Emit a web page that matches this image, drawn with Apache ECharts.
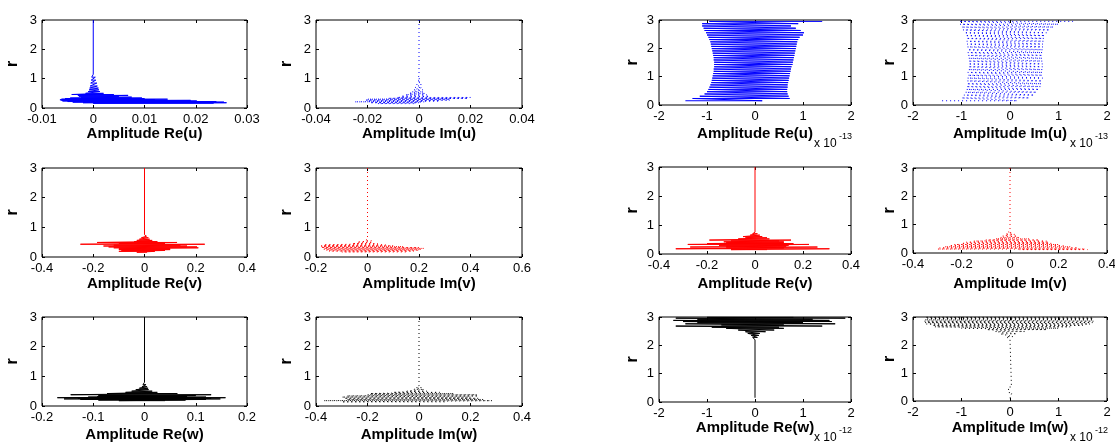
<!DOCTYPE html>
<html>
<head>
<meta charset="utf-8">
<script src="https://cdn.jsdelivr.net/npm/echarts@6/dist/echarts.min.js"></script>
<style>
html, body { margin: 0; padding: 0; background: #fff; }
#main { width: 1115px; height: 448px; }
</style>
</head>
<body>
<div id="main"></div>
<script>
// tick labels
var yTicks = [0, 1, 2, 3];
var ticksReU1 = [-0.01, 0, 0.01, 0.02, 0.03];
var ticksImU1 = [-0.04, -0.02, 0, 0.02, 0.04];
var ticksE = [-2, -1, 0, 1, 2];
var ticksV4 = [-0.4, -0.2, 0, 0.2, 0.4];
var ticksImV1 = [-0.2, 0, 0.2, 0.4, 0.6];
var ticksReW1 = [-0.2, -0.1, 0, 0.1, 0.2];

// profiles: r levels, left and right extent of the oscillation at each level
var reU1_r  = [3.0, 1.15, 1.05, 0.95, 0.85, 0.75, 0.68, 0.62, 0.56, 0.5, 0.46, 0.43, 0.4, 0.37, 0.34, 0.32, 0.3, 0.28, 0.26, 0.24, 0.22, 0.2, 0.18, 0.16];
var reU1_lo = [0, 0, -0.0003, -0.0004, -0.0005, -0.0006, -0.0007, -0.0008, -0.001, -0.0015, -0.0042, -0.003, -0.0028, -0.0024, -0.0045, -0.0055, -0.0062, -0.0065, -0.0062, -0.006, -0.005, -0.004, -0.002, 0];
var reU1_hi = [0, 0.0002, 0.0004, 0.0005, 0.0007, 0.0008, 0.001, 0.0011, 0.0013, 0.002, 0.004, 0.0068, 0.005, 0.0075, 0.0095, 0.01, 0.0145, 0.012, 0.019, 0.0202, 0.024, 0.0255, 0.026, 0.0235];

var imU1_r  = [3.0, 1.1, 1.0, 0.9, 0.8, 0.7, 0.62, 0.55, 0.5, 0.45, 0.4, 0.36, 0.33, 0.3, 0.27, 0.24, 0.21, 0.18, 0.15];
var imU1_lo = [0, 0, -0.0005, -0.0008, -0.001, -0.0015, -0.002, -0.0027, -0.004, -0.0053, -0.007, -0.0086, -0.012, -0.02, -0.021, -0.02, -0.025, -0.019, -0.016];
var imU1_hi = [0, 0.0003, 0.0006, 0.0008, 0.001, 0.0012, 0.0015, 0.0018, 0.0025, 0.003, 0.004, 0.02, 0.019, 0.012, 0.012, 0.008, 0.002, 0, -0.002];

var reU2_r  = [0.15, 0.23, 0.31, 0.39, 0.47, 0.55, 0.63, 0.71, 0.79, 0.87, 0.95, 1.03, 1.11, 1.19, 1.27, 1.35, 1.43, 1.51, 1.59, 1.67, 1.75, 1.83, 1.91, 1.99, 2.07, 2.15, 2.23, 2.31, 2.39, 2.47, 2.55, 2.63, 2.71, 2.79, 2.87, 2.95];
var reU2_lo = [-1.45, -1.3, -1.15, -1.05, -1.0, -0.97, -0.95, -0.93, -0.91, -0.9, -0.89, -0.88, -0.87, -0.86, -0.86, -0.85, -0.85, -0.85, -0.86, -0.86, -0.87, -0.88, -0.89, -0.9, -0.91, -0.92, -0.93, -0.95, -0.97, -1.0, -1.02, -1.05, -1.07, -1.1, -1.1, -0.95];
var reU2_hi = [0.15, 0.72, 0.7, 0.68, 0.67, 0.67, 0.68, 0.68, 0.69, 0.7, 0.71, 0.72, 0.73, 0.74, 0.75, 0.76, 0.78, 0.79, 0.8, 0.81, 0.82, 0.83, 0.84, 0.85, 0.86, 0.87, 0.88, 0.9, 0.93, 1.0, 1.02, 0.95, 0.85, 0.75, 0.9, 1.4];

var imU2_r  = [0.15, 0.25, 0.35, 0.45, 0.55, 0.65, 0.75, 0.85, 0.95, 1.05, 1.15, 1.25, 1.35, 1.45, 1.55, 1.65, 1.75, 1.85, 1.95, 2.05, 2.15, 2.25, 2.35, 2.45, 2.55, 2.65, 2.75, 2.85, 2.95];
var imU2_lo = [-1.4, -1.0, -0.95, -0.92, -0.9, -0.9, -0.89, -0.88, -0.88, -0.87, -0.87, -0.86, -0.86, -0.86, -0.86, -0.86, -0.86, -0.87, -0.87, -0.88, -0.88, -0.89, -0.9, -0.92, -0.94, -0.97, -1.0, -1.03, -1.05];
var imU2_hi = [0.15, 0.4, 0.5, 0.55, 0.6, 0.63, 0.65, 0.66, 0.67, 0.67, 0.67, 0.67, 0.67, 0.67, 0.67, 0.67, 0.67, 0.67, 0.68, 0.68, 0.68, 0.69, 0.7, 0.72, 0.75, 0.82, 0.9, 1.0, 1.3];

var reV1_r  = [3.0, 0.75, 0.7, 0.65, 0.6, 0.56, 0.52, 0.49, 0.46, 0.43, 0.4, 0.37, 0.34, 0.31, 0.28, 0.25, 0.22, 0.19, 0.16];
var reV1_lo = [0, 0, -0.005, -0.012, -0.02, -0.03, -0.04, -0.185, -0.1, -0.25, -0.12, -0.16, -0.14, -0.12, -0.1, -0.1, -0.09, -0.1, -0.03];
var reV1_hi = [0, 0.003, 0.008, 0.015, 0.02, 0.03, 0.05, 0.127, 0.08, 0.235, 0.14, 0.166, 0.205, 0.21, 0.1, 0.1, 0.08, 0.04, 0.01];

var imV1_r  = [3.0, 0.6, 0.55, 0.5, 0.45, 0.41, 0.38, 0.35, 0.32, 0.29, 0.26, 0.23, 0.2, 0.17];
var imV1_lo = [0, 0, -0.01, -0.04, -0.06, -0.17, -0.18, -0.18, -0.18, -0.17, -0.17, -0.16, -0.15, -0.1];
var imV1_hi = [0, 0.005, 0.015, 0.02, 0.04, 0.07, 0.1, 0.14, 0.2, 0.22, 0.21, 0.2, 0.18, 0.15];

var reV2_r  = [3.0, 0.75, 0.7, 0.65, 0.6, 0.56, 0.52, 0.48, 0.45, 0.42, 0.39, 0.36, 0.33, 0.3, 0.27, 0.24, 0.21, 0.18, 0.15];
var reV2_lo = [0, 0, -0.01, -0.02, -0.05, -0.04, -0.07, -0.19, -0.1, -0.13, -0.12, -0.2, -0.28, -0.15, -0.12, -0.27, -0.12, -0.33, -0.1];
var reV2_hi = [0, 0.005, 0.01, 0.02, 0.03, 0.05, 0.06, 0.15, 0.1, 0.12, 0.12, 0.16, 0.225, 0.14, 0.13, 0.26, 0.12, 0.31, 0.05];

var imV2_r  = [3.0, 0.78, 0.72, 0.66, 0.6, 0.55, 0.5, 0.46, 0.42, 0.38, 0.34, 0.3, 0.26, 0.22, 0.18, 0.14, 0.12];
var imV2_lo = [0, 0, -0.01, -0.02, -0.03, -0.04, -0.06, -0.1, -0.15, -0.18, -0.2, -0.23, -0.25, -0.27, -0.29, -0.3, 0.04];
var imV2_hi = [0, 0.005, 0.01, 0.02, 0.03, 0.04, 0.08, 0.12, 0.15, 0.16, 0.17, 0.2, 0.22, 0.25, 0.28, 0.31, 0.32];

var reW1_r  = [3.0, 0.8, 0.72, 0.65, 0.6, 0.55, 0.5, 0.46, 0.42, 0.38, 0.35, 0.32, 0.3, 0.28, 0.26, 0.24, 0.22, 0.2, 0.18];
var reW1_lo = [0, 0, -0.003, -0.005, -0.01, -0.017, -0.025, -0.037, -0.073, -0.144, -0.09, -0.092, -0.11, -0.17, -0.13, -0.157, -0.125, -0.09, -0.05];
var reW1_hi = [0, 0.002, 0.003, 0.005, 0.007, 0.008, 0.015, 0.025, 0.064, 0.13, 0.1, 0.083, 0.12, 0.158, 0.13, 0.148, 0.12, 0.08, 0.04];

var imW1_r  = [3.0, 0.68, 0.62, 0.56, 0.5, 0.46, 0.42, 0.38, 0.34, 0.3, 0.26, 0.22, 0.18, 0.14];
var imW1_lo = [0, 0, -0.01, -0.02, -0.047, -0.1, -0.19, -0.2, -0.28, -0.3, -0.29, -0.28, -0.37, -0.3];
var imW1_hi = [0, 0.005, 0.01, 0.02, 0.03, 0.08, 0.135, 0.225, 0.23, 0.2, 0.23, 0.25, 0.284, 0.1];

var reW2_r  = [0.15, 0.2, 2.2, 2.28, 2.35, 2.42, 2.48, 2.54, 2.6, 2.64, 2.68, 2.72, 2.76, 2.8, 2.84, 2.88, 2.92, 2.96, 2.99];
var reW2_lo = [0, -0.03, 0, -0.05, -0.08, -0.15, -0.2, -0.35, -0.6, -0.9, -1.65, -0.7, -1.45, -1.2, -1.5, -1.7, -1.2, -1.65, -1.0];
var reW2_hi = [0, 0.03, 0, 0.05, 0.08, 0.1, 0.22, 0.4, 0.6, 0.5, 1.4, 0.6, 1.67, 1.0, 1.6, 1.55, 1.2, 1.88, 0.8];

var imW2_r  = [0.1, 0.3, 0.5, 2.2, 2.3, 2.4, 2.48, 2.55, 2.6, 2.65, 2.7, 2.75, 2.8, 2.85, 2.9, 2.95, 2.99];
var imW2_lo = [0, 0.04, -0.03, 0, -0.08, -0.2, -0.3, -0.48, -1.0, -1.55, -1.6, -1.72, -1.75, -1.76, -1.76, -1.7, -1.75];
var imW2_hi = [0, -0.03, 0.03, 0, 0.06, 0.14, 0.3, 0.76, 1.0, 1.24, 1.5, 1.65, 1.7, 1.72, 1.72, 1.72, 1.72];

var FONT = "'Liberation Sans', Arial, sans-serif";

// box = [left, top, width, height], lab = y of x-label centre, rx = x of "r"
var panels = [
    { r: reU1_r, lo: reU1_lo, hi: reU1_hi, ticks: ticksReU1, name: 'Amplitude Re(u)', color: '#0000ff', dot: false, box: [42, 20, 205, 88], lab: 134, rx: 13 },
    { r: imU1_r, lo: imU1_lo, hi: imU1_hi, ticks: ticksImU1, name: 'Amplitude Im(u)', color: '#0000ff', dot: true, box: [316, 20, 206, 88], lab: 134, rx: 287 },
    { r: reU2_r, lo: reU2_lo, hi: reU2_hi, ticks: ticksE, name: 'Amplitude Re(u)', color: '#0000ff', dot: false, box: [659, 20, 192, 85], lab: 134, rx: 633, exp: '-13' },
    { r: imU2_r, lo: imU2_lo, hi: imU2_hi, ticks: ticksE, name: 'Amplitude Im(u)', color: '#0000ff', dot: true, box: [913, 20, 194, 85], lab: 134, rx: 890, exp: '-13' },
    { r: reV1_r, lo: reV1_lo, hi: reV1_hi, ticks: ticksV4, name: 'Amplitude Re(v)', color: '#ff0000', dot: false, box: [42, 168, 205, 89], lab: 284, rx: 13 },
    { r: imV1_r, lo: imV1_lo, hi: imV1_hi, ticks: ticksImV1, name: 'Amplitude Im(v)', color: '#ff0000', dot: true, box: [316, 168, 206, 89], lab: 284, rx: 287 },
    { r: reV2_r, lo: reV2_lo, hi: reV2_hi, ticks: ticksV4, name: 'Amplitude Re(v)', color: '#ff0000', dot: false, box: [659, 167, 192, 87], lab: 284, rx: 633 },
    { r: imV2_r, lo: imV2_lo, hi: imV2_hi, ticks: ticksV4, name: 'Amplitude Im(v)', color: '#ff0000', dot: true, box: [913, 168, 194, 85], lab: 284, rx: 890 },
    { r: reW1_r, lo: reW1_lo, hi: reW1_hi, ticks: ticksReW1, name: 'Amplitude Re(w)', color: '#000000', dot: false, box: [42, 317, 205, 89], lab: 435, rx: 13 },
    { r: imW1_r, lo: imW1_lo, hi: imW1_hi, ticks: ticksV4, name: 'Amplitude Im(w)', color: '#000000', dot: true, box: [316, 317, 206, 89], lab: 435, rx: 287 },
    { r: reW2_r, lo: reW2_lo, hi: reW2_hi, ticks: ticksE, name: 'Amplitude Re(w)', color: '#000000', dot: false, box: [659, 317, 192, 85], lab: 428, rx: 633, exp: '-12' },
    { r: imW2_r, lo: imW2_lo, hi: imW2_hi, ticks: ticksE, name: 'Amplitude Im(w)', color: '#000000', dot: true, box: [913, 317, 194, 84], lab: 428, rx: 890, exp: '-12' }
];

// curve swings from left to right extent level by level
function zigzag(r, lo, hi) {
    var pts = [];
    for (var i = 0; i < r.length; i++) {
        pts.push([lo[i], r[i]]);
        pts.push([hi[i], r[i]]);
    }
    return pts;
}

var grid = [], xAxis = [], yAxis = [], series = [], graphic = [];

panels.forEach(function(p, i) {
    var b = p.box;
    grid.push({
        left: b[0], top: b[1], width: b[2], height: b[3],
        show: true, borderColor: '#000', borderWidth: 1, backgroundColor: '#fff',
        containLabel: false, outerBoundsMode: 'none'
    });
    var xmin = p.ticks[0], xmax = p.ticks[p.ticks.length - 1], step = p.ticks[1] - p.ticks[0];
    var tick = { inside: true, length: 3, lineStyle: { color: '#000', width: 1 } };
    var noLine = { show: false, onZero: false };
    xAxis.push({
        gridIndex: i, type: 'value', position: 'bottom',
        min: xmin, max: xmax, interval: step,
        axisLine: noLine, axisTick: tick, splitLine: { show: false },
        axisLabel: { color: '#000', fontSize: 13, fontFamily: FONT, margin: 5 }
    });
    xAxis.push({
        gridIndex: i, type: 'value', position: 'top',
        min: xmin, max: xmax, interval: step,
        axisLine: noLine, axisTick: tick, splitLine: { show: false },
        axisLabel: { show: false }
    });
    yAxis.push({
        gridIndex: i, type: 'value', position: 'left',
        min: 0, max: 3, interval: yTicks[1] - yTicks[0],
        axisLine: noLine, axisTick: tick, splitLine: { show: false },
        axisLabel: { color: '#000', fontSize: 13, fontFamily: FONT, margin: 5 }
    });
    yAxis.push({
        gridIndex: i, type: 'value', position: 'right',
        min: 0, max: 3, interval: yTicks[1] - yTicks[0],
        axisLine: noLine, axisTick: tick, splitLine: { show: false },
        axisLabel: { show: false }
    });
    series.push({
        type: 'line',
        xAxisIndex: 2 * i, yAxisIndex: 2 * i,
        data: zigzag(p.r, p.lo, p.hi),
        showSymbol: false, symbol: 'none', silent: true,
        lineStyle: { color: p.color, width: 1, type: p.dot ? [1, 3] : 'solid' }
    });

    graphic.push({
        type: 'text', x: b[0] + b[2] / 2, y: p.lab,
        style: { text: p.name, font: 'bold 15px ' + FONT, fill: '#000', align: 'center', verticalAlign: 'middle' }
    });
    graphic.push({
        type: 'text', x: p.rx, y: b[1] + b[3] / 2, rotation: Math.PI / 2,
        style: { text: 'r', font: 'bold 16px ' + FONT, fill: '#000', align: 'center', verticalAlign: 'middle' }
    });
    if (p.exp) {
        var ex = b[0] + b[2] - 37, ey = p.lab + 10;
        graphic.push({
            type: 'text', x: ex, y: ey,
            style: { text: 'x 10', font: '12px ' + FONT, fill: '#000', align: 'left', verticalAlign: 'middle' }
        });
        graphic.push({
            type: 'text', x: ex + 25, y: ey - 7,
            style: { text: p.exp, font: '9px ' + FONT, fill: '#000', align: 'left', verticalAlign: 'middle' }
        });
    }
});

var chart = echarts.init(document.getElementById('main'), null, { renderer: 'canvas' });
chart.setOption({
    backgroundColor: '#fff',
    animation: false,
    grid: grid,
    xAxis: xAxis,
    yAxis: yAxis,
    series: series,
    graphic: graphic
});
</script>
</body>
</html>
